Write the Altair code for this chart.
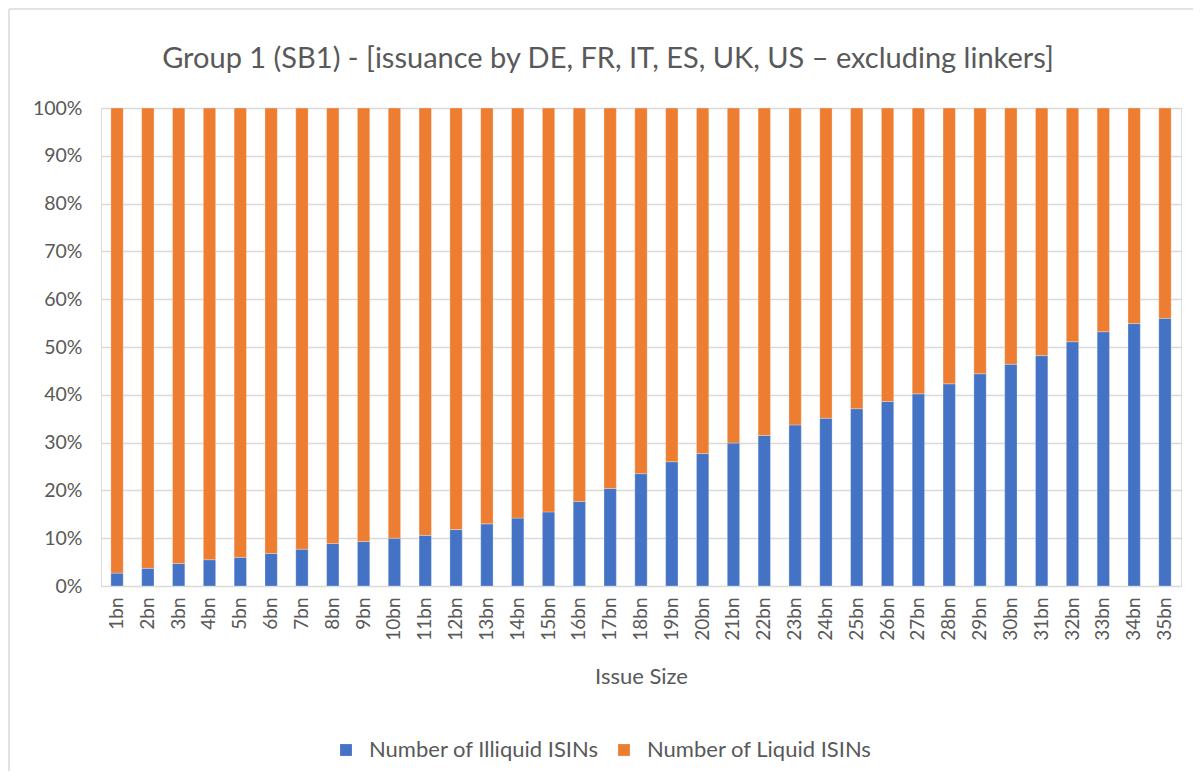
import altair as alt
import pandas as pd

title_text = "Group 1 (SB1) -  [issuance by DE, FR, IT, ES, UK, US \u2013 excluding linkers]"
sizes = [f"{i}bn" for i in range(1, 36)]
illiquid = [2.7, 3.7, 4.7, 5.5, 6.0, 6.8, 7.7, 8.9, 9.3, 10.0, 10.6, 11.8, 13.0, 14.2, 15.5,
            17.7, 20.4, 23.5, 26.0, 27.7, 29.9, 31.5, 33.7, 35.1, 37.1, 38.6, 40.2, 42.3,
            44.4, 46.4, 48.2, 51.1, 53.2, 54.9, 56.0]
liquid = [97.3, 96.3, 95.3, 94.5, 94.0, 93.2, 92.3, 91.1, 90.7, 90.0, 89.4, 88.2, 87.0, 85.8, 84.5,
          82.3, 79.6, 76.5, 74.0, 72.3, 70.1, 68.5, 66.3, 64.9, 62.9, 61.4, 59.8, 57.7,
          55.6, 53.6, 51.8, 48.9, 46.8, 45.1, 44.0]
series = ["Number of Illiquid ISINs", "Number of Liquid ISINs"]
colors = ["#4472C4", "#ED7D31"]
y_ticks = [i / 10 for i in range(11)]

rows = []
for s, a, b in zip(sizes, illiquid, liquid):
    rows.append({"size": s, "series": series[0], "value": a / 100, "order": 0})
    rows.append({"size": s, "series": series[1], "value": b / 100, "order": 1})
df = pd.DataFrame(rows)

FONT = "Lato"
GREY = "#595959"

bars = alt.Chart(df).mark_bar(stroke="#ffffff", strokeOpacity=0.35, strokeWidth=0.8).encode(
    x=alt.X("size:N", sort=sizes,
            scale=alt.Scale(paddingInner=0.6, paddingOuter=0.32),
            axis=alt.Axis(title="Issue Size", labelAngle=-90, labelAlign="right",
                          labelBaseline="middle", labelPadding=11, ticks=False,
                          domain=False, labelFontSize=19, titleFontSize=22,
                          labelColor=GREY, titleColor=GREY, titleFontWeight="normal",
                          titlePadding=26, labelFont=FONT, titleFont=FONT)),
    y=alt.Y("value:Q", stack="zero",
            scale=alt.Scale(domain=[0, 1]),
            axis=alt.Axis(title=None, format=".0%", values=y_ticks, labelOverlap=False,
                          ticks=False, domain=False, grid=True, gridColor="#d9d9d9",
                          gridWidth=1.3, labelFontSize=19.5, labelColor=GREY,
                          labelPadding=19, labelFont=FONT)),
    color=alt.Color("series:N", scale=alt.Scale(domain=series, range=colors),
                    legend=alt.Legend(title=None, orient="none", direction="horizontal",
                                      legendX=234, legendY=631, symbolType="square",
                                      symbolSize=140, labelFontSize=22, labelColor=GREY,
                                      labelFont=FONT, columnPadding=14, labelOffset=12,
                                      labelLimit=500, symbolStrokeWidth=0)),
    order=alt.Order("order:Q"),
)

title = alt.Chart(pd.DataFrame({"t": [title_text]})).mark_text(
    font=FONT, fontSize=29, color=GREY, align="center", baseline="alphabetic"
).encode(text="t:N", x=alt.value(507), y=alt.value(-40))

frame_top = alt.Chart(pd.DataFrame({"k": [0]})).mark_rule(color="#d9d9d9", strokeWidth=1.5).encode(
    x=alt.value(-92), x2=alt.value(1092), y=alt.value(-99))
frame_left = alt.Chart(pd.DataFrame({"k": [0]})).mark_rule(color="#d9d9d9", strokeWidth=1.5).encode(
    x=alt.value(-92), y=alt.value(-99), y2=alt.value(663))

chart = alt.layer(frame_top, frame_left, title, bars).properties(
    width=1080, height=478,
    padding=0,
).configure_view(stroke=None).configure(background="white")

chart.save("out.html", embed_options={"renderer": "svg", "actions": False})
